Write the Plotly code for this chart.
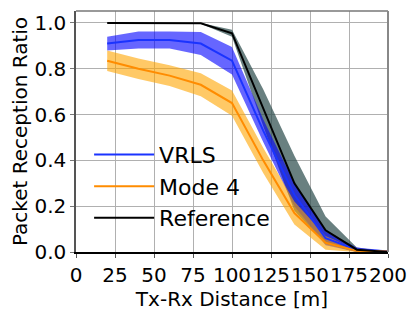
import plotly.graph_objects as go

dist = [20, 40, 60, 80, 100, 120, 140, 160, 180, 200]
vrls = [0.91, 0.925, 0.925, 0.91, 0.835, 0.53, 0.25, 0.06, 0.01, 0.003]
vrls_err = [0.03, 0.037, 0.037, 0.05, 0.06, 0.05, 0.05, 0.03, 0.01, 0.003]
mode4 = [0.835, 0.80, 0.77, 0.73, 0.65, 0.40, 0.17, 0.04, 0.005, 0.002]
mode4_err = [0.045, 0.045, 0.045, 0.05, 0.055, 0.055, 0.05, 0.03, 0.005, 0.002]
ref = [1.0, 1.0, 1.0, 0.998, 0.955, 0.63, 0.30, 0.095, 0.01, 0.0]
ref_err = [0.0, 0.0, 0.0, 0.002, 0.015, 0.08, 0.12, 0.06, 0.01, 0.0]

x_ticks = [0, 25, 50, 75, 100, 125, 150, 175, 200]
y_ticks = [0.0, 0.2, 0.4, 0.6, 0.8, 1.0]

FONT = "DejaVu Sans"

fig = go.Figure()


def band(y, e, color):
    up = [a + b for a, b in zip(y, e)]
    lo = [a - b for a, b in zip(y, e)]
    fig.add_trace(go.Scatter(x=dist + dist[::-1], y=up + lo[::-1], fill="toself",
                             fillcolor=color, line=dict(width=0), mode="lines",
                             showlegend=False, hoverinfo="skip"))


band(ref, ref_err, "rgba(47,79,79,0.72)")
band(vrls, vrls_err, "rgba(0,0,255,0.6)")
band(mode4, mode4_err, "rgba(255,165,0,0.6)")

fig.add_trace(go.Scatter(x=dist, y=vrls, mode="lines", name="VRLS",
                         line=dict(color="#1a33ff", width=2)))
fig.add_trace(go.Scatter(x=dist, y=mode4, mode="lines", name="Mode 4",
                         line=dict(color="darkorange", width=2)))
fig.add_trace(go.Scatter(x=dist, y=ref, mode="lines", name="Reference",
                         line=dict(color="black", width=2)))

# page body has an 8px default margin, so the figure is 8px smaller
fig.update_layout(
    width=407, height=303,
    margin=dict(l=68, r=27, t=3, b=59),
    paper_bgcolor="white", plot_bgcolor="white",
    font=dict(family=FONT, size=20, color="black"),
    legend=dict(x=0.042, y=0.055, xanchor="left", yanchor="bottom",
                bgcolor="rgba(0,0,0,0)", font=dict(size=22), tracegroupgap=0,
                itemwidth=60),
    showlegend=True,
)
fig.update_xaxes(range=[0, 200], tickvals=x_ticks, ticktext=[str(v) for v in x_ticks],
                 tickangle=0, automargin=False,
                 showgrid=True, gridcolor="#b0b0b0", gridwidth=1,
                 showline=True, linecolor="black", linewidth=1.5,
                 ticks="outside", ticklen=4, tickcolor="#555",
                 zeroline=False,
                 title=dict(text="Tx-Rx Distance [m]", standoff=0, font=dict(size=20)),
                 tickfont=dict(size=20))
fig.update_yaxes(range=[0, 1.052], tickvals=y_ticks, ticktext=["%.1f" % v for v in y_ticks],
                 automargin=False,
                 showgrid=True, gridcolor="#b0b0b0", gridwidth=1,
                 showline=True, linecolor="#555", linewidth=1.5,
                 ticks="outside", ticklen=4, tickcolor="#777",
                 zeroline=False,
                 title=dict(text="Packet Reception Ratio", standoff=2, font=dict(size=20)),
                 tickfont=dict(size=20))
fig.add_shape(type="line", xref="paper", yref="paper", x0=0, x1=1, y0=1, y1=1,
              line=dict(color="#777", width=1.5))
fig.add_shape(type="line", xref="paper", yref="paper", x0=1, x1=1, y0=0, y1=1,
              line=dict(color="#888", width=2))

fig.write_html("out.html")
